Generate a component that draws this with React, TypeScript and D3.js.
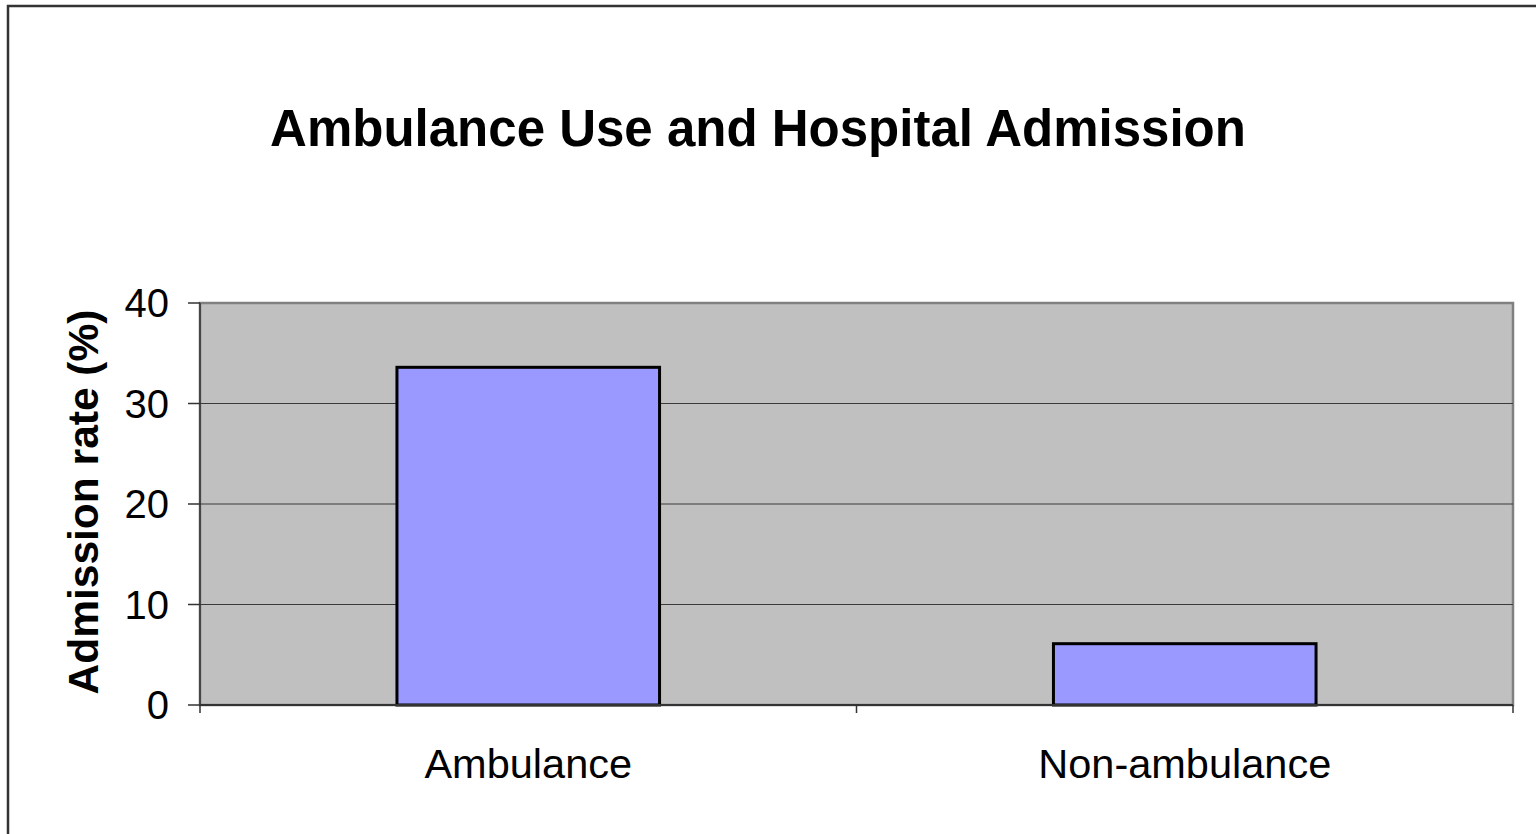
import React from "react";
import * as d3 from "d3";

// Admission rate by mode of arrival
const categories = ["Ambulance", "Non-ambulance"];
const admissionRates = [33.6, 6.1];
const yTicks = [0, 10, 20, 30, 40];

const title = "Ambulance Use and Hospital Admission";
const yTitle = "Admission rate (%)";

const W = 1536;
const H = 834;
const plot = { left: 200, top: 303, right: 1513, bottom: 705 };

export default function App() {
  const x = d3
    .scaleBand<string>()
    .domain(categories)
    .range([plot.left, plot.right])
    .paddingInner(0.6)
    .paddingOuter(0.3);

  const bandAll = d3
    .scaleBand<string>()
    .domain(categories)
    .range([plot.left, plot.right]);

  const y = d3.scaleLinear().domain([0, 40]).range([plot.bottom, plot.top]);

  const font = "Arial, 'Liberation Sans', Helvetica, sans-serif";
  const xTickPos = [plot.left, ...categories.map((c) => (bandAll(c) as number) + bandAll.bandwidth())];

  return (
    <svg
      width={W}
      height={H}
      style={{ position: "absolute", left: 0, top: 0, background: "#fff" }}
      fontFamily={font}
    >
      {/* chart frame */}
      <rect x={8} y={6} width={W + 20} height={H + 20} fill="none" stroke="#333" strokeWidth={2.5} />

      <text x={758} y={146} textAnchor="middle" fontSize={51} fontWeight="bold" fill="#000">
        {title}
      </text>

      {/* plot area */}
      <rect
        x={plot.left}
        y={plot.top}
        width={plot.right - plot.left}
        height={plot.bottom - plot.top}
        fill="#c0c0c0"
        stroke="#808080"
        strokeWidth={2.5}
      />

      {/* gridlines */}
      {yTicks
        .filter((t) => t > 0 && t < 40)
        .map((t) => (
          <line key={"g" + t} x1={plot.left} x2={plot.right} y1={y(t)} y2={y(t)} stroke="#3a3a3a" strokeWidth={1} />
        ))}

      {/* bars */}
      {categories.map((c, i) => (
        <rect
          key={c}
          x={x(c)}
          y={y(admissionRates[i])}
          width={x.bandwidth()}
          height={y(0) - y(admissionRates[i])}
          fill="#9999ff"
          stroke="#000"
          strokeWidth={3}
        />
      ))}

      {/* axes */}
      <line x1={plot.left} x2={plot.left} y1={plot.top} y2={plot.bottom} stroke="#333" strokeWidth={1.5} />
      <line x1={plot.left} x2={plot.right} y1={plot.bottom} y2={plot.bottom} stroke="#333" strokeWidth={2} />
      {yTicks.map((t) => (
        <g key={"t" + t}>
          <line x1={plot.left - 12} x2={plot.left} y1={y(t)} y2={y(t)} stroke="#333" strokeWidth={1.5} />
          <text x={169} y={y(t)} dy="0.36em" textAnchor="end" fontSize={40} fill="#000">
            {t}
          </text>
        </g>
      ))}
      {xTickPos.map((p, i) => (
        <line key={"xt" + i} x1={p} x2={p} y1={plot.bottom} y2={plot.bottom + 8} stroke="#333" strokeWidth={1.5} />
      ))}
      {categories.map((c) => (
        <text
          key={"xl" + c}
          x={(bandAll(c) as number) + bandAll.bandwidth() / 2}
          y={778}
          textAnchor="middle"
          fontSize={41.5}
          fill="#000"
        >
          {c}
        </text>
      ))}

      <text
        transform={`translate(98, ${(plot.top + plot.bottom) / 2 - 2}) rotate(-90)`}
        textAnchor="middle"
        fontSize={42.5}
        fontWeight="bold"
        fill="#000"
      >
        {yTitle}
      </text>
    </svg>
  );
}
